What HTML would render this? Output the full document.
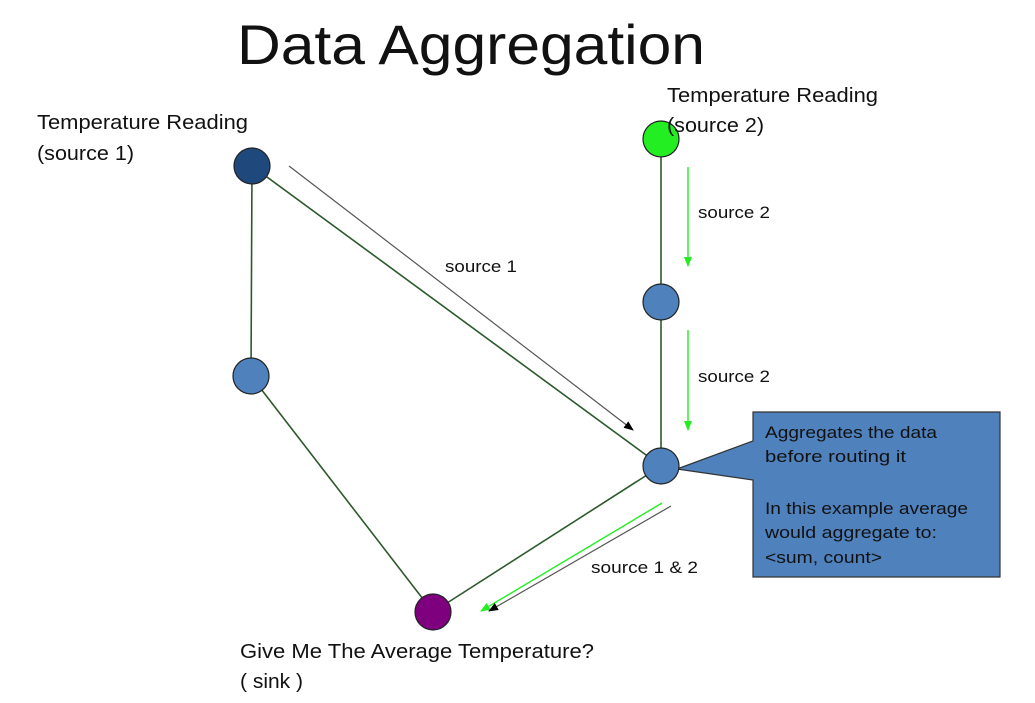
<!DOCTYPE html>
<html><head><meta charset="utf-8"><style>
html,body{margin:0;padding:0;background:#fff;}
svg{display:block;}
text{font-family:"Liberation Sans",sans-serif;fill:#111;}
</style></head><body>
<svg width="1035" height="703" viewBox="0 0 1035 703" xmlns="http://www.w3.org/2000/svg">
<defs>
<marker id="ab" markerWidth="10" markerHeight="8" refX="9" refY="4" orient="auto" markerUnits="userSpaceOnUse"><path d="M0,0 L10,4 L0,8 z" fill="#000"/></marker>
<marker id="ag" markerWidth="10" markerHeight="8" refX="9" refY="4" orient="auto" markerUnits="userSpaceOnUse"><path d="M0,0 L10,4 L0,8 z" fill="#22ee22"/></marker>
</defs>
<text x="237" y="64" font-size="56" textLength="468" lengthAdjust="spacingAndGlyphs">Data Aggregation</text>
<g stroke="#2d5a2d" stroke-width="1.6" fill="none">
<line x1="252" y1="166" x2="251" y2="376"/>
<line x1="252" y1="166" x2="661" y2="466"/>
<line x1="251" y1="376" x2="433" y2="612"/>
<line x1="661" y1="139" x2="661" y2="466"/>
<line x1="661" y1="466" x2="433" y2="612"/>
</g>
<line x1="289" y1="166" x2="633" y2="430" stroke="#555" stroke-width="1.2" marker-end="url(#ab)"/>
<line x1="688" y1="167" x2="688" y2="266" stroke="#22ee22" stroke-width="1.4" marker-end="url(#ag)"/>
<line x1="688" y1="330" x2="688" y2="430" stroke="#22ee22" stroke-width="1.4" marker-end="url(#ag)"/>
<line x1="662" y1="503" x2="481" y2="611" stroke="#22ee22" stroke-width="1.4" marker-end="url(#ag)"/>
<line x1="671" y1="506" x2="489" y2="611" stroke="#555" stroke-width="1.2" marker-end="url(#ab)"/>
<path d="M753,412 H1000 V577 H753 V480 L677,469 L753,441 Z" fill="#4f81bd" stroke="#333" stroke-width="1.2"/>
<g stroke="#222" stroke-width="1.2">
<circle cx="252" cy="166" r="18" fill="#1f497d"/>
<circle cx="251" cy="376" r="18" fill="#4f81bd"/>
<circle cx="661" cy="139" r="18" fill="#22ee22"/>
<circle cx="661" cy="302" r="18" fill="#4f81bd"/>
<circle cx="661" cy="466" r="18" fill="#4f81bd"/>
<circle cx="433" cy="612" r="18" fill="#7f007f"/>
</g>
<g font-size="20" lengthAdjust="spacingAndGlyphs">
<text x="37" y="129" textLength="211" lengthAdjust="spacingAndGlyphs">Temperature Reading</text>
<text x="37" y="160" textLength="97" lengthAdjust="spacingAndGlyphs">(source 1)</text>
<text x="667" y="102" textLength="211" lengthAdjust="spacingAndGlyphs">Temperature Reading</text>
<text x="667" y="132" textLength="97" lengthAdjust="spacingAndGlyphs">(source 2)</text>
<text x="240" y="658" textLength="354" lengthAdjust="spacingAndGlyphs">Give Me The Average Temperature?</text>
<text x="240" y="688" textLength="63" lengthAdjust="spacingAndGlyphs">( sink )</text>
</g>
<g font-size="17">
<text x="445" y="272" textLength="72" lengthAdjust="spacingAndGlyphs">source 1</text>
<text x="698" y="218" textLength="72" lengthAdjust="spacingAndGlyphs">source 2</text>
<text x="698" y="382" textLength="72" lengthAdjust="spacingAndGlyphs">source 2</text>
<text x="591" y="573" textLength="107" lengthAdjust="spacingAndGlyphs">source 1 &amp; 2</text>
<text x="765" y="438" textLength="172" lengthAdjust="spacingAndGlyphs">Aggregates the data</text>
<text x="765" y="462" textLength="141" lengthAdjust="spacingAndGlyphs">before routing it</text>
<text x="765" y="514" textLength="203" lengthAdjust="spacingAndGlyphs">In this example average</text>
<text x="765" y="538" textLength="172" lengthAdjust="spacingAndGlyphs">would aggregate to:</text>
<text x="765" y="563" textLength="117" lengthAdjust="spacingAndGlyphs">&lt;sum, count&gt;</text>
</g>
</svg>
</body></html>
